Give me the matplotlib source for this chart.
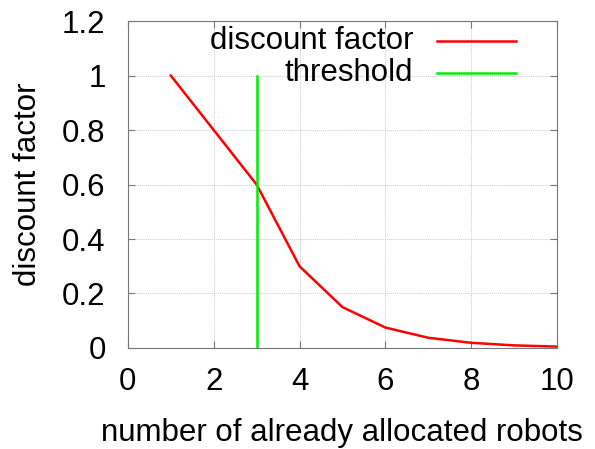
import matplotlib.pyplot as plt
import numpy as np

plt.rcParams['font.family'] = ['Liberation Sans', 'DejaVu Sans']

# discount factor per number of already allocated robots
robots = np.array([1, 2, 3, 4, 5, 6, 7, 8, 9, 10])
discount = np.array([1.0, 0.8, 0.6, 0.3, 0.15, 0.075, 0.0375, 0.019, 0.0095, 0.005])

threshold_x = [3, 3]
threshold_y = [0, 1]

fig = plt.figure(figsize=(5.95, 4.49), dpi=100)
ax = fig.add_axes([0.215, 0.225, 0.721, 0.728])

ax.plot(robots, discount, color='#ff0000', lw=1.8)
ax.plot(threshold_x, threshold_y, color='#00ee00', lw=1.8)

ax.set_xlim(0, 10)
ax.set_ylim(0, 1.2)
ax.set_xticks([0, 2, 4, 6, 8, 10])
ax.set_yticks([0, 0.2, 0.4, 0.6, 0.8, 1.0, 1.2])
ax.set_yticklabels(['0', '0.2', '0.4', '0.6', '0.8', '1', '1.2'])
ax.tick_params(direction='in', top=True, right=True, labelsize=22.5,
               length=5, width=0.8, color='#777777')
ax.tick_params(axis='y', pad=16)
ax.tick_params(axis='x', pad=14)
ax.grid(True, color='#cccccc', lw=0.7, ls=(0, (1, 1)))
for s in ax.spines.values():
    s.set_color('#777777')
    s.set_linewidth(0.8)

ax.set_xlabel('number of already allocated robots', fontsize=22.5, labelpad=15)
ax.set_ylabel('discount factor', fontsize=22.5, labelpad=14)

# gnuplot-style key: text right-aligned, sample line to the right
labels = ['discount factor', 'threshold']
colors = ['#ff0000', '#00ee00']
for i, (lab, c) in enumerate(zip(labels, colors)):
    yy = 0.94 - i * 0.1
    ax.text(0.665, yy, lab, transform=ax.transAxes, ha='right', va='center',
            fontsize=22.5)
    ax.plot([0.72, 0.905], [yy, yy], transform=ax.transAxes, color=c, lw=1.8)

fig.savefig('out.png', dpi=100)
